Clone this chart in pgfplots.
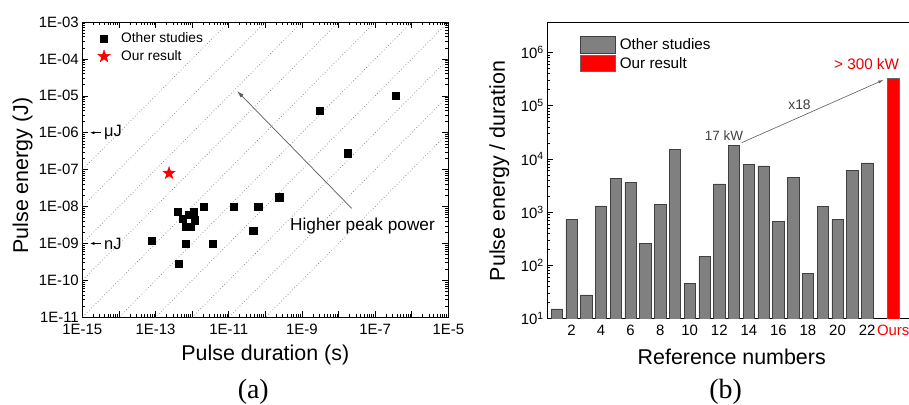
\documentclass[border=0pt]{standalone}
\usepackage{fontspec}
\setmainfont{Liberation Sans}
\newfontfamily\seriffont{Liberation Serif}
\usepackage{pgfplots}
\pgfplotsset{compat=1.18}
\usetikzlibrary{arrows.meta}
\definecolor{bargray}{RGB}{128,128,128}
\definecolor{arrgray}{RGB}{90,90,90}
\pgfplotsset{boxlegend/.style={legend image code/.code={\draw[##1] (0bp,-8.35bp) rectangle (34.4bp,8.35bp);}},
  marklegend/.style={legend image code/.code={\draw[##1] plot coordinates {(0bp,0bp)};}}}

\pgfdeclareplotmark{fstar}{%
  \pgfpathmoveto{\pgfpointpolar{90}{\pgfplotmarksize}}%
  \pgfpathlineto{\pgfpointpolar{126}{0.4\pgfplotmarksize}}%
  \pgfpathlineto{\pgfpointpolar{162}{\pgfplotmarksize}}%
  \pgfpathlineto{\pgfpointpolar{198}{0.4\pgfplotmarksize}}%
  \pgfpathlineto{\pgfpointpolar{234}{\pgfplotmarksize}}%
  \pgfpathlineto{\pgfpointpolar{270}{0.4\pgfplotmarksize}}%
  \pgfpathlineto{\pgfpointpolar{306}{\pgfplotmarksize}}%
  \pgfpathlineto{\pgfpointpolar{342}{0.4\pgfplotmarksize}}%
  \pgfpathlineto{\pgfpointpolar{18}{\pgfplotmarksize}}%
  \pgfpathlineto{\pgfpointpolar{54}{0.4\pgfplotmarksize}}%
  \pgfpathclose
  \pgfusepathqfillstroke}

\pgfplotstableread{
x y
1 15
2 730
3 27.5
4 1300
5 4300
6 3580
7 258
8 1400
9 14900
10 46
11 145
12 3380
13 17700
14 7800
15 7350
16 660
17 4500
18 70
19 1280
20 730
21 6000
22 8400
}\refdata

\begin{document}
\begin{tikzpicture}[x=1bp,y=1bp]
\path[use as bounding box] (0,0) rectangle (909,404);

% ---------------- (a) ----------------
\begin{axis}[
  at={(82.3bp,86.7bp)}, anchor=south west,
  scale only axis, width=366bp, height=295.3bp,
  xmode=log, ymode=log,
  xmin=1e-15, xmax=1e-5, ymin=1e-11, ymax=1e-3,
  xtick={1e-15,1e-14,1e-13,1e-12,1e-11,1e-10,1e-9,1e-8,1e-7,1e-6,1e-5},
  xticklabels={1E-15,,1E-13,,1E-11,,1E-9,,1E-7,,1E-5},
  ytick={1e-11,1e-10,1e-9,1e-8,1e-7,1e-6,1e-5,1e-4,1e-3},
  yticklabels={1E-11,1E-10,1E-09,1E-08,1E-07,1E-06,1E-05,1E-04,1E-03},
  tick align=inside,
  major tick length=6bp, minor tick length=3bp,
  every tick/.style={black, line width=0.6bp},
  axis line style={line width=0.9bp},
  ticklabel style={font=\fontsize{15}{18}\selectfont},
  xticklabel style={yshift=-3bp},
  xlabel={Pulse duration (s)},
  ylabel={Pulse energy (J)},
  label style={font=\fontsize{21.5}{24}\selectfont},
  xlabel style={at={(axis description cs:0.5,0)}, anchor=base, yshift=-42.7bp},
  ylabel style={at={(axis description cs:-0.148,0.480)}, anchor=base},
  legend style={at={(0.042,0.971)}, anchor=north west, draw=none, fill=none, inner sep=0pt,
    font=\fontsize{13.8}{16}\selectfont, row sep=2.5bp, column sep=9bp},
  legend cell align=left,
]
\pgfplotsset{dotline/.style={forget plot, black!55, line width=0.6bp, dash pattern=on 0.7bp off 2.4bp}}
\addplot[dotline] coordinates {(1e-20,1e-21) (1,1e-1)};
\addplot[dotline] coordinates {(1e-20,1e-20) (1,1)};
\addplot[dotline] coordinates {(1e-20,1e-19) (1,1e1)};
\addplot[dotline] coordinates {(1e-20,1e-18) (1,1e2)};
\addplot[dotline] coordinates {(1e-20,1e-17) (1,1e3)};
\addplot[dotline] coordinates {(1e-20,1e-16) (1,1e4)};
\addplot[dotline] coordinates {(1e-20,1e-15) (1,1e5)};
\addplot[dotline] coordinates {(1e-20,1e-14) (1,1e6)};
\addplot[dotline] coordinates {(1e-20,1e-13) (1,1e7)};
\addplot[dotline] coordinates {(1e-20,1e-12) (1,1e8)};

\addplot[only marks, mark=square*, mark size=3.6bp, black, marklegend] coordinates {
(4.1e-13,7.2e-9) (8.0e-13,5.9e-9) (1.13e-12,7.2e-9) (2.1e-12,1.0e-8)
(5.6e-13,4.6e-9) (1.15e-12,4.3e-9) (6.6e-13,2.85e-9) (9.0e-13,2.85e-9)
(1.34e-11,1.0e-8) (6.4e-11,1.0e-8) (2.4e-10,1.8e-8) (4.7e-11,2.25e-9)
(7.9e-14,1.18e-9) (6.8e-13,1.0e-9) (3.7e-12,1.0e-9) (4.4e-13,2.9e-10)
(3.0e-9,3.9e-6) (1.8e-8,2.8e-7) (3.6e-7,1.0e-5)
};
\addlegendentry{Other studies}
\addplot[only marks, mark=fstar, mark size=6.5bp, red, marklegend] coordinates {(2.35e-13,8.0e-8)};
\addlegendentry{Our result}

\draw[arrgray, line width=0.7bp, -{Latex[length=7bp,width=4bp]}] (axis cs:2.3e-8,8.9e-9) -- (axis cs:1.7e-11,1.35e-5);
\node[anchor=base west, inner sep=0pt, font=\fontsize{17.3}{20}\selectfont] at (axis cs:4.73e-10,2.3e-9) {Higher peak power};
\draw[black, line width=0.5bp, -{Latex[length=4bp,width=3bp]}] (axis cs:3.24e-15,1e-6) -- (axis cs:1.65e-15,1e-6);
\draw[black, line width=0.5bp, -{Latex[length=4bp,width=3bp]}] (axis cs:3.24e-15,1e-9) -- (axis cs:1.65e-15,1e-9);
\node[anchor=west, inner sep=0pt, font=\fontsize{16.5}{19}\selectfont] at (axis cs:3.9e-15,1e-6) {μJ};
\node[anchor=west, inner sep=0pt, font=\fontsize{16.5}{19}\selectfont] at (axis cs:3.9e-15,1e-9) {nJ};
\end{axis}

% ---------------- (b) ----------------
\begin{axis}[
  at={(547.3bp,85.7bp)}, anchor=south west,
  scale only axis, width=362.6bp, height=296bp,
  ymode=log, ymin=10, ymax=3.72e6,
  xmin=0.364, xmax=24.9,
  ybar, bar width=0.77,
  xtick={2,4,6,8,10,12,14,16,18,20,22,23.77},
  xticklabels={2,4,6,8,10,12,14,16,18,20,22,\textcolor{red}{Ours}},
  ytick={10,100,1000,10000,100000,1000000},
  yticklabels={10\textsuperscript{1},10\textsuperscript{2},10\textsuperscript{3},10\textsuperscript{4},10\textsuperscript{5},10\textsuperscript{6}},
  ytick pos=left, xtick pos=left,
  tick align=inside,
  major tick length=6bp, minor tick length=3bp,
  x tick style={draw=none},
  every tick/.style={black, line width=0.6bp},
  axis line style={line width=0.9bp},
  ticklabel style={font=\fontsize{15}{18}\selectfont},
  xticklabel style={yshift=-3bp},
  xlabel={Reference numbers},
  ylabel={Pulse energy / duration},
  label style={font=\fontsize{21.5}{24}\selectfont},
  xlabel style={at={(axis description cs:0.5086,0)}, anchor=base, yshift=-46bp},
  ylabel style={at={(axis description cs:-0.1167,0.498)}, anchor=base},
  legend style={at={(0.0827,0.9595)}, anchor=north west, draw=none, fill=none,
    font=\fontsize{15.3}{18}\selectfont, row sep=1bp, column sep=2.5bp},
  legend cell align=left,
]
\addplot[bar shift=0pt, fill=bargray, draw=black!75, line width=0.5bp, boxlegend]
  table[x=x,y=y] {\refdata};
\addlegendentry{Other studies}
\addplot[bar shift=0pt, fill=red, draw=black!60, line width=0.5bp, boxlegend]
  coordinates {(23.77,329000)};
\addlegendentry{Our result}

\draw[arrgray, line width=0.6bp, -{Latex[length=5bp,width=3bp]}] (axis cs:13.52,2.02e4) -- (axis cs:23.1,3.05e5);
\node[anchor=base, inner sep=0pt, text=black!75, font=\fontsize{13.5}{16}\selectfont] at (axis cs:12.32,2.2e4) {17 kW};
\node[anchor=base, inner sep=0pt, text=black!75, font=\fontsize{13.9}{16}\selectfont] at (axis cs:17.43,8.59e4) {x18};
\node[anchor=base, inner sep=0pt, text=red!90!black, font=\fontsize{15.3}{18}\selectfont] at (axis cs:21.97,4.71e5) {> 300 kW};
\end{axis}

\node[anchor=base, inner sep=0pt, font=\seriffont\fontsize{28}{32}\selectfont] at (253.3,6) {(a)};
\node[anchor=base, inner sep=0pt, font=\seriffont\fontsize{28}{32}\selectfont] at (725.7,6) {(b)};
\end{tikzpicture}
\end{document}
